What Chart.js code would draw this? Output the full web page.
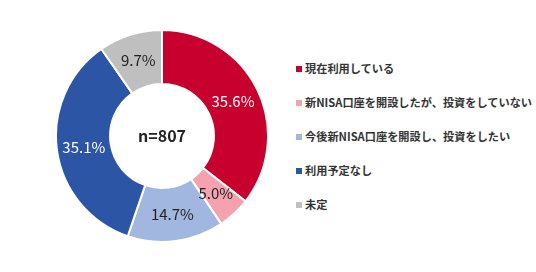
<!DOCTYPE html>
<html>
<head>
<meta charset="utf-8">
<script src="https://cdn.jsdelivr.net/npm/chart.js@4.4.1/dist/chart.umd.min.js"></script>
<style>
  body { margin: 0; background: #fff; font-family: "Noto Sans CJK JP", "Noto Sans", sans-serif; }
  #wrap { position: relative; width: 536px; height: 272px; }
  #chartBox { position: absolute; left: 55px; top: 29px; width: 214px; height: 214px; }
  #legend { position: absolute; left: 296px; top: 58px; margin: 0; padding: 0; list-style: none; }
  #legend li { height: 34px; line-height: 20px; font-size: 11.2px; font-weight: bold; color: #333; white-space: nowrap; }
  #legend span { display: inline-block; width: 6px; height: 6px; margin-right: 3px; vertical-align: 1px; }
</style>
</head>
<body>
<div id="wrap">
  <div id="chartBox"><canvas id="mycanvas"></canvas></div>
  <ul id="legend"></ul>
</div>
<script>
var labels = ['現在利用している', '新NISA口座を開設したが、投資をしていない', '今後新NISA口座を開設し、投資をしたい', '利用予定なし', '未定'];
var values = [35.6, 5.0, 14.7, 35.1, 9.7];
var colors = ['#C8002D', '#F4A3AE', '#A2B7E0', '#2D55A6', '#BFBFBF'];
var labelColors = ['#fff', '#222', '#222', '#fff', '#222'];
var centerText = 'n=807';

// legend as html list
var ul = document.getElementById('legend');
for (var i in labels) {
	var li = document.createElement('li');
	var sq = document.createElement('span');
	sq.style.background = colors[i];
	li.appendChild(sq);
	li.appendChild(document.createTextNode(labels[i]));
	ul.appendChild(li);
}

var sliceLabels = {
	id: 'sliceLabels',
	afterDatasetsDraw: function(chart) {
		var ctx = chart.ctx;
		var meta = chart.getDatasetMeta(0);
		ctx.save();
		ctx.textAlign = 'center';
		ctx.textBaseline = 'middle';
		ctx.font = '15px "Noto Sans CJK JP", sans-serif';
		meta.data.forEach(function(arc, i) {
			var p = arc.tooltipPosition();
			ctx.fillStyle = labelColors[i];
			ctx.fillText(values[i].toFixed(1) + '%', p.x, p.y);
		});
		ctx.font = 'bold 16px "Noto Sans CJK JP", sans-serif';
		ctx.fillStyle = '#222';
		var a = meta.data[0];
		ctx.fillText(centerText, a.x, a.y);
		ctx.restore();
	}
};

var ctx = document.getElementById('mycanvas');
var donut = new Chart(ctx, {
	type: 'doughnut',
	data: {
		labels: labels,
		datasets: [{
			data: values,
			backgroundColor: colors,
			borderColor: '#fff',
			borderWidth: 2
		}]
	},
	options: {
		responsive: true,
		maintainAspectRatio: false,
		animation: false,
		cutout: '49%',
		plugins: {
			legend: { display: false },
			tooltip: { enabled: false }
		}
	},
	plugins: [sliceLabels]
});
</script>
</body>
</html>
